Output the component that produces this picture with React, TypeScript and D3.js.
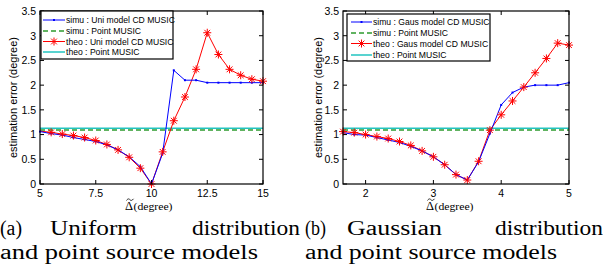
import React from "react";
import * as d3 from "d3";

// ---------- data ----------
const uniX = [5, 5.5, 6, 6.5, 7, 7.5, 8, 8.5, 9, 9.5, 10, 10.5, 11, 11.5, 12, 12.5, 13, 13.5, 14, 14.5, 15];
const uniSimu = [1.06, 1.02, 0.99, 0.94, 0.9, 0.86, 0.79, 0.69, 0.55, 0.35, 0.0, 0.62, 2.3, 2.1, 2.1, 2.05, 2.05, 2.05, 2.05, 2.05, 2.05];
const uniTheo = [1.07, 1.045, 1.01, 0.98, 0.94, 0.88, 0.8, 0.69, 0.54, 0.32, 0.0, 0.65, 1.28, 1.76, 2.32, 3.06, 2.62, 2.32, 2.2, 2.12, 2.08];
const uniPointSimu = 1.09;
const uniPointTheo = 1.13;

const gausX = [1.6667, 1.8333, 2, 2.1667, 2.3333, 2.5, 2.6667, 2.8333, 3, 3.1667, 3.3333, 3.5, 3.6667, 3.8333, 4, 4.1667, 4.3333, 4.5, 4.6667, 4.8333, 5];
const gausSimu = [1.04, 1.0, 0.99, 0.94, 0.89, 0.84, 0.76, 0.67, 0.55, 0.39, 0.19, 0.08, 0.45, 1.02, 1.6, 1.85, 1.96, 2.0, 2.0, 2.0, 2.05];
const gausTheo = [1.06, 1.04, 1.0, 0.96, 0.92, 0.86, 0.78, 0.67, 0.55, 0.39, 0.19, 0.08, 0.46, 1.09, 1.4, 1.68, 1.96, 2.25, 2.54, 2.85, 2.81];
const gausPointSimu = 1.09;
const gausPointTheo = 1.13;

const yTicks = [0, 0.5, 1, 1.5, 2, 2.5, 3, 3.5];
const uniXTicks = [5, 7.5, 10, 12.5, 15];
const gausXTicks = [2, 3, 4, 5];

const uniLegend = ["simu : Uni model CD MUSIC", "simu : Point MUSIC", "theo : Uni model CD MUSIC", "theo : Point MUSIC"];
const gausLegend = ["simu : Gaus model CD MUSIC", "simu : Point MUSIC", "theo : Gaus model CD MUSIC", "theo : Point MUSIC"];

const BLUE = "#0000ff";
const RED = "#ff0000";
const GREEN = "#2e9a2e";
const CYAN = "#22c4c0";
const SANS = "'Liberation Sans', Arial, sans-serif";
const SERIF = "'Liberation Serif', 'Times New Roman', serif";

function Star({ x, y, r = 4 }: { x: number; y: number; r?: number }) {
  const d = r * 0.72;
  return (
    <path
      d={`M${x - r},${y}L${x + r},${y}M${x},${y - r}L${x},${y + r}M${x - d},${y - d}L${x + d},${y + d}M${x - d},${y + d}L${x + d},${y - d}`}
      stroke={RED}
      strokeWidth={1}
      fill="none"
    />
  );
}

type PanelProps = {
  x0: number;
  x1: number;
  domain: [number, number];
  xs: number[];
  simu: number[];
  theo: number[];
  pSimu: number;
  pTheo: number;
  xTicks: number[];
  legend: string[];
  legBox: [number, number, number, number];
  legRows: number[];
  legLineX: [number, number];
  legTextX: number;
  markFirst: boolean;
  yLabelX: number;
  yTickX: number;
  xLabelX: number;
};

function Panel(p: PanelProps) {
  const top = 11;
  const bottom = 184;
  const x = d3.scaleLinear().domain(p.domain).range([p.x0, p.x1]);
  const y = d3.scaleLinear().domain([0, 3.5]).range([bottom, top]);
  const line = d3
    .line<number>()
    .x((_, i) => x(p.xs[i]))
    .y((v) => y(v));
  const tl = 4;
  const clipId = `clip${p.x0}`;
  const tx = p.xLabelX + 1.5;
  return (
    <g>
      <defs>
        <clipPath id={clipId}>
          <rect x={p.x0} y={top} width={p.x1 - p.x0} height={bottom - top} />
        </clipPath>
      </defs>
      <rect x={p.x0} y={top} width={p.x1 - p.x0} height={bottom - top} fill="#fff" />
      <g clipPath={`url(#${clipId})`}>
        <line x1={p.x0} x2={p.x1} y1={y(p.pTheo)} y2={y(p.pTheo)} stroke={CYAN} strokeWidth={1.5} />
        <line x1={p.x0} x2={p.x1} y1={y(p.pSimu)} y2={y(p.pSimu)} stroke={GREEN} strokeWidth={1.5} strokeDasharray="5,3" />
        <path d={line(p.theo) || ""} stroke={RED} strokeWidth={1} fill="none" />
        <path d={line(p.simu) || ""} stroke={BLUE} strokeWidth={1} fill="none" />
      </g>
      {p.simu.map((v, i) => (
        <rect key={"b" + i} x={x(p.xs[i]) - 1} y={y(v) - 1} width={2} height={2} fill={BLUE} />
      ))}
      {p.theo.map((v, i) =>
        i === 0 && !p.markFirst ? null : <Star key={"s" + i} x={x(p.xs[i])} y={y(v)} />
      )}
      {/* axes box */}
      <rect x={p.x0} y={top} width={p.x1 - p.x0} height={bottom - top} fill="none" stroke="#000" strokeWidth={1.2} />
      {p.xTicks.map((t) => (
        <g key={"xt" + t}>
          <line x1={x(t)} x2={x(t)} y1={bottom} y2={bottom - tl} stroke="#000" />
          <line x1={x(t)} x2={x(t)} y1={top} y2={top + tl} stroke="#000" />
          <text x={x(t)} y={197} textAnchor="middle" fontFamily={SANS} fontSize={10.5}>
            {String(t)}
          </text>
        </g>
      ))}
      {yTicks.map((t) => (
        <g key={"yt" + t}>
          <line x1={p.x0} x2={p.x0 + tl} y1={y(t)} y2={y(t)} stroke="#000" />
          <line x1={p.x1} x2={p.x1 - tl} y1={y(t)} y2={y(t)} stroke="#000" />
          <text x={p.yTickX} y={y(t) + 3.8} textAnchor="end" fontFamily={SANS} fontSize={10.5}>
            {String(t)}
          </text>
        </g>
      ))}
      <text
        transform={`translate(${p.yLabelX},${(top + bottom) / 2}) rotate(-90)`}
        textAnchor="middle"
        fontFamily={SANS}
        fontSize={11}
      >
        estimation error (degree)
      </text>
      {/* x label */}
      <text x={p.xLabelX} y={210} fontFamily={SERIF} fontSize={12.5}>
        Δ
      </text>
      <path
        d={`M${tx},${200.5}C${tx + 1.5},${198} ${tx + 3},${199} ${tx + 3.5},${199.8}S${tx + 5.5},${201} ${tx + 7},${198.8}`}
        stroke="#000"
        strokeWidth={0.8}
        fill="none"
      />
      <text x={p.xLabelX + 8.5} y={210} fontFamily={SERIF} fontSize={10} textLength={39} lengthAdjust="spacingAndGlyphs">
        (degree)
      </text>
      {/* legend */}
      <rect
        x={p.legBox[0]}
        y={p.legBox[1]}
        width={p.legBox[2] - p.legBox[0]}
        height={p.legBox[3] - p.legBox[1]}
        fill="#fff"
        stroke="#000"
        strokeWidth={1.2}
      />
      {p.legend.map((s, i) => {
        const ly = p.legRows[i];
        const [a, b] = p.legLineX;
        const m = (a + b) / 2;
        return (
          <g key={"lg" + i}>
            {i === 0 && (
              <>
                <line x1={a} x2={b} y1={ly} y2={ly} stroke={BLUE} />
                <rect x={m - 1} y={ly - 1} width={2} height={2} fill={BLUE} />
              </>
            )}
            {i === 1 && <line x1={a} x2={b} y1={ly} y2={ly} stroke={GREEN} strokeWidth={1.5} strokeDasharray="5,3" />}
            {i === 2 && (
              <>
                <line x1={a} x2={b} y1={ly} y2={ly} stroke={RED} />
                <Star x={m} y={ly} />
              </>
            )}
            {i === 3 && <line x1={a} x2={b} y1={ly} y2={ly} stroke={CYAN} strokeWidth={1.5} />}
            <text x={p.legTextX} y={ly + 3} fontFamily={SANS} fontSize={8.6}>
              {s}
            </text>
          </g>
        );
      })}
    </g>
  );
}

export default function App() {
  return (
    <svg width={603} height={270} style={{ position: "absolute", left: 0, top: 0, background: "#fff" }}>
      <rect width={603} height={270} fill="#fff" />
      <Panel
        x0={40}
        x1={263}
        domain={[5, 15]}
        xs={uniX}
        simu={uniSimu}
        theo={uniTheo}
        pSimu={uniPointSimu}
        pTheo={uniPointTheo}
        xTicks={uniXTicks}
        legend={uniLegend}
        legBox={[41, 11, 173, 59]}
        legRows={[20, 31, 41.5, 52]}
        legLineX={[43, 65]}
        legTextX={66}
        markFirst={false}
        yLabelX={17}
        yTickX={36}
        xLabelX={125}
      />
      <Panel
        x0={343}
        x1={569}
        domain={[1.6667, 5]}
        xs={gausX}
        simu={gausSimu}
        theo={gausTheo}
        pSimu={gausPointSimu}
        pTheo={gausPointTheo}
        xTicks={gausXTicks}
        legend={gausLegend}
        legBox={[347, 14, 490, 61]}
        legRows={[22, 33, 43.5, 55]}
        legLineX={[351, 372]}
        legTextX={373}
        markFirst={true}
        yLabelX={322}
        yTickX={339}
        xLabelX={426}
      />
      {/* captions */}
      <g fontFamily={SERIF} fontSize={20}>
        <text x={0} y={235} textLength={22} lengthAdjust="spacingAndGlyphs">(a)</text>
        <text x={50} y={235} textLength={87} lengthAdjust="spacingAndGlyphs">Uniform</text>
        <text x={192} y={235} textLength={108} lengthAdjust="spacingAndGlyphs">distribution</text>
        <text x={0} y={259} textLength={258} lengthAdjust="spacingAndGlyphs">and point source models</text>
        <text x={305} y={235} textLength={21} lengthAdjust="spacingAndGlyphs">(b)</text>
        <text x={347} y={235} textLength={95} lengthAdjust="spacingAndGlyphs">Gaussian</text>
        <text x={495} y={235} textLength={108} lengthAdjust="spacingAndGlyphs">distribution</text>
        <text x={305} y={259} textLength={252} lengthAdjust="spacingAndGlyphs">and point source models</text>
      </g>
    </svg>
  );
}
